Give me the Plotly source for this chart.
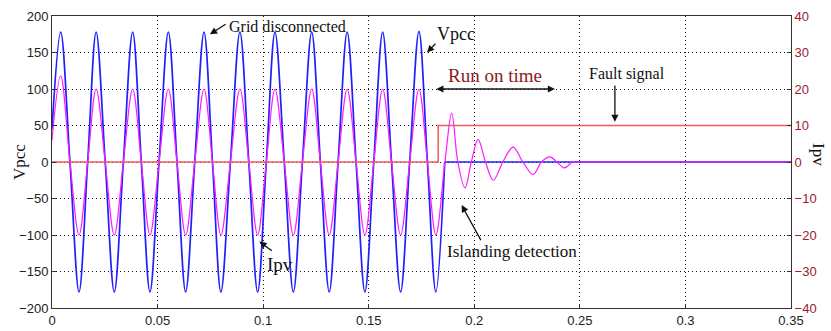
import plotly.graph_objects as go

# Vpcc (V): extrema and zero crossings of the PCC voltage, grid disconnected at ~0.183 s
vpcc_t = [0.0, 0.0041, 0.0085, 0.0128, 0.0169, 0.0209, 0.0252, 0.0295, 0.0338,
          0.0382, 0.0423, 0.0464, 0.0507, 0.0551, 0.0592, 0.0633, 0.0676,
          0.0720, 0.0760, 0.0800, 0.0845, 0.0890, 0.0932, 0.0974, 0.1015,
          0.1056, 0.1100, 0.1143, 0.1186, 0.1230, 0.1271, 0.1313, 0.1355,
          0.1398, 0.1440, 0.1482, 0.1524, 0.1566, 0.1608, 0.1651, 0.1694,
          0.1738, 0.1778, 0.1818, 0.1860, 0.3500]
vpcc_v = [45, 178, 0, -178, 0, 178, 0, -178, 0,
          178, 0, -178, 0, 178, 0, -178, 0,
          178, 0, -178, 0, 178, 0, -178, 0,
          178, 0, -178, 0, 178, 0, -178, 0,
          178, 0, -178, 0, 178, 0, -178, 0,
          179, 0, -178, 0, 0]
vpcc_settled_at = 0.1860   # voltage collapses to zero from here on

# Ipv (A): PV current, in phase with Vpcc, then a decaying ring-down after islanding
ipv_t = [0.0, 0.0041, 0.0085, 0.0128, 0.0169, 0.0209, 0.0252, 0.0295, 0.0338,
         0.0382, 0.0423, 0.0464, 0.0507, 0.0551, 0.0592, 0.0633, 0.0676,
         0.0720, 0.0760, 0.0800, 0.0845, 0.0890, 0.0932, 0.0974, 0.1015,
         0.1056, 0.1100, 0.1143, 0.1186, 0.1230, 0.1271, 0.1313, 0.1355,
         0.1398, 0.1440, 0.1482, 0.1524, 0.1566, 0.1608, 0.1651, 0.1694,
         0.1738, 0.1778, 0.1818, 0.1861, 0.1893, 0.1922, 0.1956, 0.1986,
         0.2018, 0.2053, 0.2090, 0.2135, 0.2184, 0.2230, 0.2279, 0.2318,
         0.2358, 0.2391, 0.2426, 0.2461, 0.3500]
ipv_v = [6, 23.6, 0, -20, 0, 20, 0, -20, 0,
         20, 0, -20, 0, 20, 0, -20, 0,
         20, 0, -20, 0, 20, 0, -20, 0,
         20, 0, -20, 0, 20, 0, -20, 0,
         20, 0, -20, 0, 20, 0, -20, 0,
         20, 0, -20, 0, 13.4, 0, -7.1, 0,
         6.2, 0, -5.0, 0, 4.1, 0, -3.4, 0,
         1.4, 0, -1.6, 0, 0]
ipv_settled_at = 0.2461    # ring-down has died out from here on

# Fault (trip) signal
fault_t = [0.0, 0.1829, 0.35]
fault_v = [0, 10, 10]

x_ticks = [0, 0.05, 0.1, 0.15, 0.2, 0.25, 0.3, 0.35]
x_labels = ["0", "0.05", "0.1", "0.15", "0.2", "0.25", "0.3", "0.35"]
v_ticks = [-200, -150, -100, -50, 0, 50, 100, 150, 200]
i_ticks = [-40, -30, -20, -10, 0, 10, 20, 30, 40]

SERIF = "Liberation Serif"
SANS = "Liberation Sans"
AXIS_COLOR = "#333333"
BLUE = "#1f1fff"
MAGENTA = "#ff1aff"


def split_at(ts, vs, t_cut):
    """Oscillating part (smoothed) and the settled flat tail (straight)."""
    k = ts.index(t_cut)
    return (ts[:k + 1], vs[:k + 1]), (ts[k:], vs[k:])


fig = go.Figure()

(v_osc, v_flat) = split_at(vpcc_t, vpcc_v, vpcc_settled_at)
(i_osc, i_flat) = split_at(ipv_t, ipv_v, ipv_settled_at)

fig.add_trace(go.Scatter(x=v_osc[0], y=v_osc[1], mode="lines", name="Vpcc",
                         line=dict(color=BLUE, width=1.7, shape="spline", smoothing=1.0),
                         yaxis="y"))
fig.add_trace(go.Scatter(x=v_flat[0], y=v_flat[1], mode="lines", showlegend=False,
                         line=dict(color=BLUE, width=1.7), yaxis="y"))
fig.add_trace(go.Scatter(x=i_osc[0], y=i_osc[1], mode="lines", name="Ipv",
                         line=dict(color=MAGENTA, width=1.2, shape="spline", smoothing=1.0),
                         yaxis="y2"))
fig.add_trace(go.Scatter(x=i_flat[0], y=i_flat[1], mode="lines", showlegend=False,
                         line=dict(color=MAGENTA, width=1.0), yaxis="y2"))
fig.add_trace(go.Scatter(x=fault_t, y=fault_v, mode="lines", name="Fault signal",
                         line=dict(color="#f05a5a", width=1.5, shape="hv"),
                         yaxis="y2"))

grid = dict(showgrid=True, gridcolor="#111111", gridwidth=1, griddash="1px,3px")
common = dict(ticks="inside", ticklen=4, tickcolor=AXIS_COLOR, automargin=False,
              showline=True, linecolor=AXIS_COLOR, linewidth=1, zeroline=False)

fig.update_layout(
    width=831, height=331,
    margin=dict(l=52, r=40, t=16, b=23, autoexpand=False),
    paper_bgcolor="white", plot_bgcolor="white",
    showlegend=False,
    xaxis=dict(range=[0, 0.35], tickvals=x_ticks, ticktext=x_labels, mirror=True,
               tickfont=dict(family=SANS, size=13, color="#222222"),
               **common, **grid),
    yaxis=dict(range=[-200, 200], tickvals=v_ticks,
               tickfont=dict(family=SANS, size=13, color="#222222"),
               **common, **grid),
    yaxis2=dict(range=[-40, 40], tickvals=i_ticks, overlaying="y", side="right",
                showgrid=False,
                tickfont=dict(family=SANS, size=13, color="#9b1b30"),
                **common),
)

txt = dict(family=SERIF, size=16, color="#111111")
arrow = dict(showarrow=True, arrowhead=2, arrowsize=1.1, arrowwidth=1.3,
             arrowcolor="#111111", axref="x", ayref="y", xref="x", yref="y", text="")

annotations = [
    # axis titles
    dict(text="Vpcc", xref="paper", yref="y", x=0, y=0, xshift=-33, xanchor="center",
         yanchor="middle", showarrow=False, textangle=-90,
         font=dict(family=SERIF, size=17, color="#111122")),
    dict(text="Ipv", xref="paper", yref="y", x=1, y=11, xshift=27, xanchor="center",
         yanchor="middle", showarrow=False, textangle=90,
         font=dict(family=SERIF, size=17, color="#111111")),
    # labels
    dict(text="Grid disconnected", x=0.1113, y=186, showarrow=False, font=txt),
    dict(text="Vpcc", x=0.1913, y=175, showarrow=False,
         font=dict(family=SERIF, size=18, color="#111111")),
    dict(text="Run on time", x=0.2098, y=118, showarrow=False,
         font=dict(family=SERIF, size=19, color="#8b1a1a")),
    dict(text="Fault signal", x=0.2725, y=120, showarrow=False, font=txt),
    dict(text="Islanding detection", x=0.2180, y=-122, showarrow=False,
         font=dict(family=SERIF, size=17, color="#111111")),
    dict(text="Ipv", x=0.1080, y=-141, showarrow=False,
         font=dict(family=SERIF, size=19, color="#111111")),
    # arrows
    dict(x=0.0748, y=175, ax=0.0829, ay=190, **arrow),
    dict(x=0.1776, y=150, ax=0.1823, ay=164, **arrow),
    dict(x=0.2382, y=100, ax=0.1813, ay=100, arrowside="end+start", **arrow),
    dict(x=0.2666, y=55, ax=0.2666, ay=107, **arrow),
    dict(x=0.1940, y=-59, ax=0.2035, ay=-109, **arrow),
    dict(x=0.0982, y=-109, ax=0.1048, ay=-123, **arrow),
]
fig.update_layout(annotations=annotations)

fig.write_html("out.html")
